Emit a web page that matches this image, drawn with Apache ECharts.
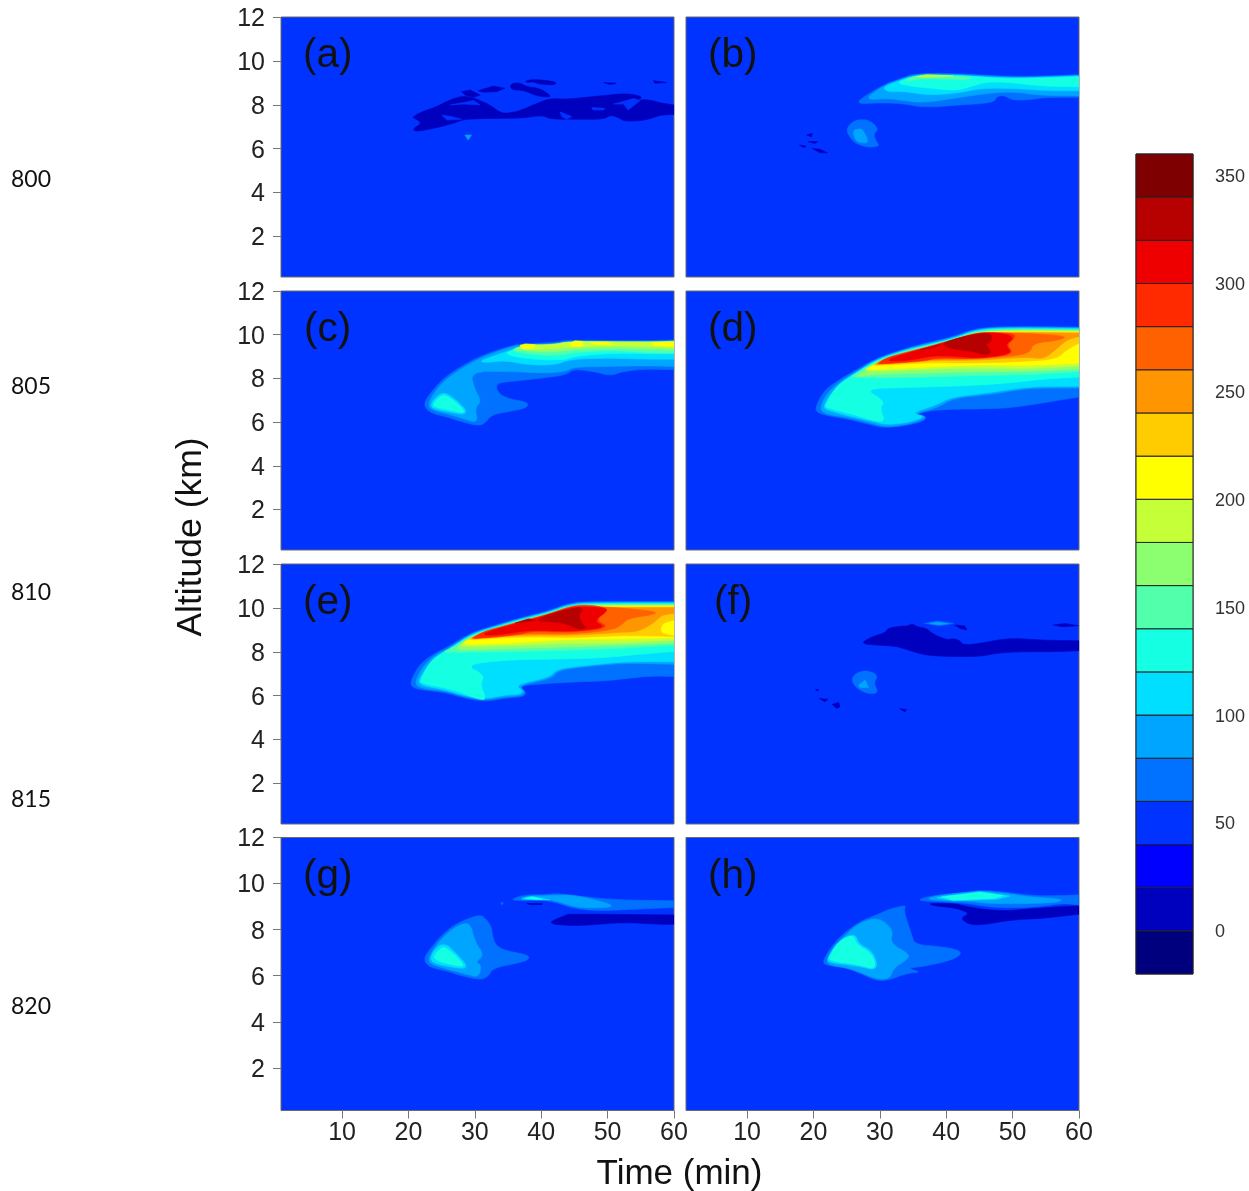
<!DOCTYPE html>
<html><head><meta charset="utf-8">
<style>html,body{margin:0;padding:0;background:#fff}#c{width:1249px;height:1191px}</style>
<script src="https://cdn.jsdelivr.net/npm/echarts@6/dist/echarts.min.js"></script>
</head><body><div id="c"></div>
<script>
const levels=[-20,0,20,40,60,80,100,120,140,160,180,200,220,240,260,280,300,320,340];
const levelColors=['#00007F','#0000BF','#0000FF','#0033FF','#0072FF','#00A5FF','#00DFFF','#15FFE3','#52FFAA','#8CFF70','#C4FF37','#FFFF00','#FFCC00','#FF9500','#FF6000','#FF2A00','#EE0000','#B70000','#7F0000'];
const colorbarTicks=[0,50,100,150,200,250,300,350];
const timeTicks=[10,20,30,40,50,60];
const altitudeTicks=[2,4,6,8,10,12];
const panelLetters=['(a)','(b)','(c)','(d)','(e)','(f)','(g)','(h)'];
const runLabels=['800','805','810','815','820'];

const panelA=[
[0,[[20.5,7.43],[22,7.68],[24,7.88],[26,8.19],[28,8.4],[29.5,8.34],[30.8,8.19],[32.3,7.99],[33.8,7.64],[35,7.61],[36.8,7.73],[39.3,8.06],[41.3,8.29],[43.8,8.25],[46.8,8.34],[49.9,8.44],[52.9,8.52],[55.4,8.37],[54.4,8.19],[55.9,8.25],[58.4,8.06],[60,7.99],[60,7.56],[57.9,7.53],[55.9,7.3],[52.6,7.23],[51.6,7.43],[50.4,7.53],[49.4,7.34],[45.8,7.34],[41.3,7.34],[40.3,7.53],[36.8,7.38],[32.3,7.38],[28.3,7.34],[26.8,7.15],[23.8,6.92],[21,6.77],[20.7,6.92],[22,7.15],[21.2,7.34]]],
[0,[[28,8.6],[29.3,8.67],[30.8,8.44],[29.8,8.34],[28.5,8.44]]],
[0,[[30.5,8.64],[32.8,8.85],[34.5,8.75],[33.3,8.6],[31.3,8.57]]],
[0,[[35.3,8.95],[36.8,9.01],[37.8,8.82],[39.8,8.75],[41.3,8.44],[41.3,8.34],[39.3,8.4],[37.3,8.67],[35.5,8.67]]],
[0,[[37.6,9.1],[39.1,9.16],[42.3,9.05],[42.1,8.9],[39.8,8.93],[38.8,9.05],[37.8,9.01]]],
[0,[[49.4,9.01],[51.3,8.98],[50.4,8.92]]],
[0,[[56.9,9.1],[58.9,9.01],[57.1,8.98]]],
[40,[[25,7.53],[26.5,7.46],[28,7.34],[25.8,7.3]]],
[40,[[42.8,7.68],[44.6,7.46],[43.8,7.34],[43.1,7.46]]],
[40,[[47.6,7.88],[49.6,7.84],[49.4,7.76],[47.8,7.76]]],
[40,[[50.9,8.03],[53.9,8.29],[54.9,8.19],[53.1,7.76],[52.4,8.03]]],
[40,[[26.3,7.99],[29.8,8.19],[30.8,7.99],[28.3,8.03]]],
[41,[[34.5,8.25],[36.05,8.29],[35.5,8.19]]],
[80,[[28.5,6.62],[29.5,6.62],[29,6.39]]]
];
const panelB=[
[0,[[19,6.62],[19.8,6.7],[19.7,6.54]]],
[0,[[19.2,6.32],[20.7,6.32],[20.2,6.24]]],
[0,[[17.9,6.16],[18.9,6.12],[18.6,6.04]]],
[0,[[19.8,6.01],[21,5.97],[22.1,5.81],[21,5.81]]],
[60,[[25.8,8.03],[30.5,8.9],[32.5,9.13],[35.5,9.43],[40.1,9.43],[45.1,9.36],[50.1,9.28],[55.1,9.31],[60,9.37],[60,8.34],[55.1,8.34],[53.1,8.25],[50.1,8.19],[48.6,8.44],[47.6,8.37],[47.1,8.09],[42.1,7.99],[36.6,7.87],[33.5,8.06],[30,8.09]]],
[60,[[24.9,6.85],[25.8,7.23],[27.3,7.35],[28.8,7.23],[29.8,6.88],[29,6.66],[29.5,6.31],[30,6.12],[28.3,6.05],[26.5,6.21],[25.6,6.47]]],
[80,[[27.5,8.22],[30.5,8.85],[32.5,9.1],[35.5,9.4],[40.1,9.4],[45.1,9.33],[50.1,9.25],[55.1,9.28],[60,9.34],[60,8.4],[54.1,8.43],[50.1,8.6],[46.1,8.52],[41.1,8.29],[36.6,8.09],[33.5,8.19],[31.5,8.29]]],
[80,[[25.9,6.82],[26.9,6.92],[27.5,6.85],[28.4,6.27],[27,6.27],[26.3,6.39]]],
[100,[[30.5,8.82],[32.5,9.05],[35.5,9.36],[40.1,9.36],[45.1,9.28],[50.1,9.2],[55.1,9.25],[60,9.31],[60,8.64],[55.1,8.64],[50.1,8.75],[45.1,8.75],[41.6,8.52],[37.1,8.44],[34,8.6],[31,8.6]]],
[120,[[32.3,9.01],[35.5,9.33],[40.1,9.33],[43.6,9.31],[47.6,9.2],[55.1,9.22],[60,9.28],[60,8.82],[54.1,8.85],[50.1,9.01],[46.1,9.05],[43.6,8.82],[41.6,8.64],[37.6,8.75],[34.5,8.85]]],
[140,[[33.8,9.13],[35.8,9.36],[43.6,9.28],[43.8,9.16],[40.1,9.16],[36.6,9.2],[34.3,9.08]]],
[180,[[35.5,9.28],[37.1,9.37],[41.1,9.31],[37.1,9.25]]]
];
const panelC=[
[60,[[22.2,6.8],[23.3,7.33],[25.3,8.02],[28.3,8.62],[31.3,9.08],[34.8,9.43],[36.8,9.58],[41.8,9.64],[44.3,9.76],[50.4,9.73],[56.4,9.73],[60,9.76],[60,8.4],[55.4,8.43],[52.4,8.32],[50.4,8.12],[47.9,8.32],[44.8,8.43],[43.8,8.17],[40.3,8.02],[35.3,7.86],[33.4,7.79],[33.2,7.48],[34.5,7.1],[38.1,6.91],[37.8,6.65],[35.3,6.5],[32.5,6.34],[31.5,5.93],[30.3,5.84],[27.8,6.04],[25.8,6.24],[23.3,6.42]]],
[80,[[23,6.85],[23.8,7.33],[25.5,7.94],[28.5,8.55],[31.3,9],[34.8,9.38],[36.8,9.54],[41.8,9.58],[44.3,9.72],[50.4,9.69],[56.4,9.69],[60,9.72],[60,8.55],[55.4,8.58],[50.4,8.55],[44.8,8.52],[43.8,8.32],[40.3,8.24],[35.3,8.32],[29.3,8.32],[30,7.48],[31,6.95],[30,6.65],[30.5,5.96],[28.3,6.15],[26.3,6.34],[23.3,6.57]]],
[100,[[30.5,8.78],[34.8,9.23],[36.8,9.46],[41.8,9.54],[44.3,9.69],[50.4,9.64],[56.4,9.64],[60,9.69],[60,8.88],[55.4,8.88],[50.4,8.93],[44.3,8.88],[42.3,8.62],[37.8,8.62],[34.8,8.82],[31.8,8.73]]],
[100,[[23.3,6.8],[24.3,7.21],[25.5,7.36],[27,7.06],[28.7,6.57],[28.5,6.34],[26.3,6.45],[23.8,6.6]]],
[120,[[23.7,6.8],[24.5,7.1],[25.4,7.26],[26.8,7],[28.3,6.57],[28.3,6.42],[26.3,6.54],[24,6.69]]],
[120,[[34.6,9.19],[36.8,9.38],[41.8,9.46],[44.3,9.64],[50.4,9.61],[56.4,9.61],[60,9.64],[60,9.13],[55.4,9.13],[50.4,9.16],[44.8,9],[43.8,8.85],[39.3,8.85],[35.3,9.03]]],
[140,[[35.3,9.28],[36.8,9.43],[41.8,9.49],[44.3,9.67],[50.4,9.64],[56.4,9.64],[60,9.67],[60,9.16],[55.4,9.19],[51.4,9.28],[46.3,9.23],[41.8,9.03],[37.8,9.13]]],
[160,[[35.8,9.34],[36.8,9.46],[41.8,9.52],[44.3,9.67],[50.4,9.64],[56.4,9.64],[60,9.67],[60,9.31],[55.4,9.34],[50.4,9.38],[45.3,9.34],[41.3,9.19],[37.3,9.28]]],
[180,[[36.6,9.43],[37.3,9.55],[41.8,9.54],[44.3,9.7],[56.4,9.67],[60,9.7],[60,9.4],[55.4,9.46],[50.4,9.49],[44.3,9.43],[40.3,9.34],[37.3,9.31]]],
[200,[[36.8,9.51],[37.6,9.58],[39.1,9.54],[38.8,9.38],[37.3,9.38]]],
[200,[[44.2,9.58],[45.1,9.72],[46.3,9.69],[46.3,9.49],[44.8,9.46]]],
[200,[[47.3,9.64],[49.9,9.66],[50.9,9.55],[48.4,9.54]]],
[200,[[56.6,9.64],[60,9.67],[60,9.46],[56.9,9.51]]]
];
const panelD=[
[60,[[20.2,6.61],[21.5,7.41],[23.5,7.87],[26,8.32],[29.5,8.93],[33.55,9.34],[37.05,9.62],[41.1,9.92],[44.6,10.3],[49.6,10.38],[60,10.35],[60,7.15],[54.6,6.88],[49.6,6.65],[45.6,6.61],[38.6,6.58],[35.05,6.35],[37.05,6.24],[36.6,6.04],[33.55,5.82],[30.5,5.74],[28.5,5.89],[25.5,6.12],[22,6.3],[20.75,6.42]]],
[80,[[20.9,6.58],[21.9,7.26],[23.8,7.82],[26.3,8.28],[29.5,8.89],[33.55,9.31],[37.05,9.59],[41.1,9.87],[44.6,10.27],[49.6,10.35],[60,10.32],[60,7.56],[54.6,7.56],[51.6,7.52],[46.6,7.26],[41.1,7.11],[38.6,6.65],[35.05,6.38],[37.05,6.27],[36.3,6.09],[33.55,5.85],[30.5,5.79],[28.5,5.97],[25.5,6.2],[22,6.35]]],
[100,[[21.5,6.7],[22.25,7.15],[24,7.79],[26.3,8.25],[29.5,8.86],[33.55,9.28],[37.05,9.54],[41.1,9.84],[44.6,10.24],[49.6,10.32],[60,10.28],[60,7.64],[54.6,7.64],[51.1,7.56],[46.35,7.34],[40.8,7.15],[38.3,6.76],[34.8,6.42],[36.6,6.27],[36.05,6.15],[33.55,5.94],[30.8,5.89],[28.8,6.04],[25.5,6.27],[22,6.55]]],
[120,[[21.75,6.76],[23.3,7.56],[24.3,7.82],[26.3,8.22],[29.5,8.83],[33.55,9.25],[37.05,9.51],[41.1,9.81],[44.6,10.21],[49.6,10.28],[60,10.25],[60,8.07],[54.6,7.97],[49.6,7.79],[43.6,7.67],[34.55,7.59],[27.5,7.53],[30.8,6.96],[30,6.65],[30.8,6.04],[29.3,6.04],[26,6.35],[22,6.65]]],
[140,[[25.5,8.07],[26.3,8.19],[29.5,8.8],[33.55,9.22],[37.05,9.48],[41.1,9.78],[44.6,10.18],[49.6,10.25],[60,10.22],[60,8.32],[52.1,8.17],[44.6,8.13],[37.05,8.07],[28.5,8.02]]],
[160,[[27,8.2],[29.5,8.73],[33.55,9.16],[37.05,9.43],[41.1,9.74],[44.6,10.13],[49.6,10.22],[60,10.19],[60,8.43],[52.1,8.32],[44.6,8.32],[37.05,8.25],[28.5,8.17],[26.3,8.07]]],
[180,[[27.8,8.4],[29.8,8.7],[33.55,9.13],[37.05,9.4],[41.1,9.71],[44.6,10.1],[49.6,10.19],[60,10.16],[60,8.58],[52.1,8.43],[44.6,8.48],[37.05,8.43],[28.5,8.32]]],
[200,[[28.5,8.52],[30,8.73],[33.55,9.1],[37.05,9.37],[41.1,9.68],[44.6,10.07],[49.6,10.16],[60,10.13],[60,8.7],[52.1,8.58],[44.6,8.63],[37.05,8.51],[28.5,8.4],[27.8,8.43]]],
[220,[[29,8.63],[30.3,8.78],[33.55,9.07],[37.05,9.34],[41.1,9.65],[44.6,10.04],[49.6,10.13],[60,10.1],[60,9.62],[58.15,9.31],[56.6,8.89],[52.1,8.78],[44.6,8.7],[37.05,8.73],[29.3,8.58]]],
[240,[[29.3,8.66],[30.5,8.83],[33.55,9.04],[37.05,9.31],[41.1,9.62],[44.6,10.01],[49.6,10.1],[60,10.07],[60,9.92],[58.15,9.77],[56.2,9.24],[54.6,8.89],[52.1,8.98],[44.6,8.83],[37.05,8.83],[29.8,8.63]]],
[260,[[29.5,8.69],[31,8.93],[34.05,9.16],[37.05,9.39],[41.1,9.69],[44.6,10.04],[49.6,10.1],[58.4,9.95],[56.9,9.74],[53.1,9.62],[52.6,9.16],[49.6,9.01],[44.6,8.89],[37.05,8.89],[29.8,8.66]]],
[280,[[29.8,8.7],[31.3,8.98],[34.55,9.24],[37.05,9.43],[41.1,9.77],[44.6,10.1],[47.6,10.1],[50.4,10.04],[50.2,9.8],[49.1,9.54],[50.1,9.16],[48.1,9.01],[43.6,8.89],[38.6,8.96],[36.6,8.78],[30,8.66]]],
[300,[[31.3,8.89],[34.55,9.19],[38.6,9.54],[41.1,9.77],[45.1,10.1],[49.1,10.04],[50.2,9.84],[48.85,9.54],[49.9,9.19],[48.1,9.04],[44.6,8.93],[41.6,9.01],[38.05,9.04],[34.55,8.83],[31.5,8.78]]],
[320,[[39.1,9.54],[41.1,9.8],[45.1,10.07],[46.85,10.04],[46.85,9.69],[45.85,9.54],[46.85,9.24],[46.1,9.04],[44.1,9.24],[41.6,9.31]]],
[320,[[36.05,9.31],[38.05,9.46],[39.1,9.54],[37.8,9.39]]]
];
const panelE=[
[60,[[20.2,6.56],[21.5,7.37],[23.5,7.85],[26,8.23],[29.5,8.89],[33.55,9.25],[37.05,9.56],[41.1,9.86],[44.6,10.26],[49.6,10.29],[60,10.29],[60,6.87],[56.6,6.9],[53.1,6.79],[49.6,6.67],[43.6,6.61],[38.05,6.49],[36.6,6.41],[37.8,6.15],[37.3,5.95],[34.55,5.88],[31.5,5.73],[28.5,5.88],[25.5,6.15],[22,6.26],[20.75,6.36]]],
[80,[[20.9,6.52],[21.9,7.22],[23.8,7.82],[26.3,8.2],[29.5,8.84],[33.55,9.22],[37.05,9.53],[41.1,9.83],[44.6,10.23],[49.6,10.26],[60,10.26],[60,7.43],[54.6,7.47],[51.6,7.47],[46.6,7.32],[42.6,7.17],[41.6,6.79],[36.6,6.46],[37.6,6.18],[37.05,6],[34.55,5.95],[31.5,5.79],[28.5,5.94],[25.5,6.21],[22,6.33]]],
[100,[[21.5,6.64],[22.25,7.09],[24,7.78],[26.3,8.17],[29.5,8.81],[33.55,9.19],[37.05,9.5],[41.1,9.8],[44.6,10.19],[49.6,10.23],[60,10.23],[60,7.55],[54.6,7.55],[51.6,7.52],[46.6,7.37],[42.35,7.22],[41.3,6.84],[36.05,6.49],[37.3,6.21],[36.8,6.06],[34.55,6.03],[31.5,5.85],[28.5,5.99],[25.5,6.26],[22,6.46]]],
[120,[[21.75,6.71],[23.3,7.55],[24.3,7.78],[26.3,8.14],[29.5,8.78],[33.55,9.16],[37.05,9.47],[41.1,9.77],[44.6,10.16],[49.6,10.19],[60,10.19],[60,8.01],[54.6,7.88],[49.6,7.73],[43.6,7.67],[34.55,7.63],[28.5,7.4],[31.5,6.94],[30.8,6.49],[31.8,5.8],[30.3,5.85],[27,6.26],[22,6.56]]],
[140,[[25,7.98],[26.3,8.11],[29.5,8.75],[33.55,9.13],[37.05,9.43],[41.1,9.74],[44.6,10.13],[49.6,10.16],[60,10.16],[60,8.31],[52.1,8.16],[44.6,8.08],[37.05,8.01],[28.5,7.98]]],
[160,[[26.8,8.11],[29.5,8.69],[33.55,9.1],[37.05,9.4],[41.1,9.71],[44.6,10.1],[49.6,10.13],[60,10.13],[60,8.39],[52.1,8.31],[44.6,8.23],[37.05,8.16],[28.5,8.08]]],
[180,[[27.5,8.31],[29.8,8.64],[33.55,9.07],[37.05,9.37],[41.1,9.68],[44.6,10.07],[49.6,10.1],[60,10.1],[60,8.54],[52.1,8.39],[44.6,8.39],[37.05,8.31],[28.5,8.23]]],
[200,[[28.3,8.46],[30,8.67],[33.55,9.04],[37.05,9.34],[41.1,9.65],[44.6,10.04],[49.6,10.07],[60,10.07],[60,8.64],[52.1,8.58],[44.6,8.58],[37.05,8.42],[28.5,8.31]]],
[220,[[29,8.58],[30.3,8.74],[33.55,9.01],[37.05,9.31],[41.1,9.62],[44.6,10.01],[49.6,10.04],[60,10.04],[60,9.45],[58.15,9.3],[57.9,8.84],[60,8.72],[60,8.69],[57.6,8.72],[52.1,8.74],[44.6,8.64],[37.05,8.69],[29.3,8.54]]],
[240,[[29.3,8.61],[30.5,8.77],[33.55,8.98],[37.05,9.28],[41.1,9.59],[44.6,9.98],[49.6,10.01],[60,10.01],[60,9.75],[58.15,9.68],[56.9,9.3],[54.6,8.92],[52.1,8.89],[44.6,8.74],[37.05,8.77],[29.8,8.58]]],
[260,[[29.5,8.63],[31,8.87],[34.05,9.07],[37.05,9.34],[41.1,9.65],[44.6,10.04],[49.6,10.06],[57.9,9.83],[56.1,9.65],[53.1,9.53],[52.1,9.22],[50.6,8.99],[44.6,8.8],[37.05,8.84],[29.8,8.6]]],
[280,[[29.8,8.64],[31.3,8.92],[34.55,9.19],[37.05,9.4],[41.1,9.71],[44.6,10.1],[47.6,10.13],[50.4,9.95],[48.1,9.45],[50.1,9.15],[48.1,8.99],[43.6,8.89],[38.6,8.95],[36.6,8.77],[30,8.6]]],
[300,[[31.3,8.84],[34.55,9.15],[38.6,9.45],[41.1,9.71],[45.1,10.06],[49.1,10.01],[50.2,9.91],[47.85,9.4],[49.6,9.15],[47.6,9.02],[43.6,8.92],[38.6,9],[34.55,8.8],[31.5,8.74]]],
[320,[[39.1,9.4],[41.1,9.68],[45.6,10.06],[46.35,9.91],[45.6,9.68],[46.1,9.3],[46.85,9.07],[45.6,9.02],[43.6,9.3],[41.6,9.37]]],
[320,[[36.05,9.3],[38.05,9.5],[39.2,9.43],[37.6,9.37]]]
];
const panelF=[
[0,[[27,8.38],[29,8.71],[30.9,8.87],[31.1,9.06],[33,9.17],[34.3,9.17],[34.8,9.29],[35.6,9.14],[37.1,9.06],[37.8,8.84],[40.1,8.53],[41.1,8.61],[42.1,8.5],[42.6,8.3],[45.1,8.38],[48.1,8.56],[50.6,8.61],[54.1,8.53],[60,8.5],[60,8.05],[56.1,8],[50.6,8],[47.1,7.92],[45.1,7.77],[37.6,7.8],[35,8],[32.5,8.26],[29.5,8.3]]],
[0,[[56.1,9.22],[57.9,9.29],[59.9,9.19],[57.6,9.14]]],
[0,[[41.3,9.22],[42.8,9.17],[43.1,8.99],[42.1,9.06]]],
[0,[[20.3,6.28],[20.8,6.28],[20.6,6.21]]],
[0,[[20.9,5.87],[22.2,5.83],[21.7,5.72]]],
[0,[[22.8,5.6],[23.8,5.7],[24,5.49],[23.5,5.42]]],
[0,[[33,5.4],[34,5.37],[33.8,5.26]]],
[60,[[36.7,9.29],[38.6,9.4],[41.1,9.29],[39.1,9.19]]],
[60,[[25.7,6.71],[26.3,7.01],[27.8,7.16],[29.3,7.01],[29.6,6.86],[29.1,6.56],[29.8,6.13],[28.3,6.07],[26.5,6.33]]],
[80,[[37.5,9.29],[38.8,9.35],[40.3,9.28],[38.8,9.23]]],
[80,[[26.8,6.48],[27.8,6.71],[28.3,6.37],[27,6.36]]]
];
const panelG=[
[0,[[40.8,8.28],[43.8,8.64],[44.3,8.68],[60,8.64],[60,8.23],[57.9,8.23],[52.4,8.32],[46.3,8.18],[43.8,8.18]]],
[0,[[37.8,9.13],[40.1,9.14],[40.1,9.09],[38.3,9.09]]],
[60,[[22.2,6.69],[23.3,7.19],[25.3,7.84],[27.3,8.28],[30.8,8.68],[31.8,8.42],[32.5,8.13],[32.8,7.48],[34,7.12],[38.1,6.9],[38.1,6.69],[36.3,6.54],[32.7,6.33],[32,5.96],[30.8,5.82],[27.8,6.01],[25.8,6.21],[23.3,6.35]]],
[60,[[35.3,9.29],[37.3,9.51],[40.8,9.51],[42.3,9.58],[46.3,9.43],[51.4,9.29],[60,9.25],[60,8.96],[54.9,8.9],[48.4,8.81],[44.8,8.93],[41.8,9.22],[39.8,9.29],[37.3,9.25]]],
[60,[[33.9,9.17],[34.3,9.17],[34.1,9.07]]],
[80,[[23,6.73],[23.8,7.19],[25.5,7.77],[27.5,8.2],[29.3,8.31],[30,7.48],[31.4,6.9],[30.1,6.59],[31,6.47],[30.6,5.92],[28.8,6.06],[26.3,6.25],[23.3,6.5]]],
[80,[[36.6,9.33],[37.8,9.46],[41.8,9.48],[44.3,9.51],[47.3,9.36],[51.6,9],[47.3,8.93],[44.8,9],[41.8,9.29],[39.6,9.33]]],
[100,[[23.2,6.79],[24.4,7.31],[25.7,7.37],[27,7.02],[28.8,6.47],[28.4,6.3],[26,6.4],[23.8,6.54]]],
[100,[[37.1,9.33],[38.3,9.43],[40.1,9.36],[41.3,9.29],[39.3,9.29]]],
[120,[[23.8,6.86],[24.8,7.19],[25.5,7.24],[26.8,6.95],[28.3,6.5],[28.1,6.4],[26,6.51],[24.2,6.66]]],
[120,[[37.6,9.36],[38.8,9.43],[40.1,9.33],[39.1,9.32]]]
];
const panelH=[
[0,[[37.3,9.14],[41.1,9.14],[43.1,9],[46.1,8.86],[49.1,8.81],[53.6,8.93],[60,9.04],[60,8.67],[54.6,8.49],[49.6,8.42],[46.1,8.23],[43.6,8.2],[42.1,8.49],[43.6,8.71],[41.6,8.93],[38.1,9.04]]],
[60,[[21.25,6.54],[22.5,7.19],[24.5,7.84],[27,8.35],[29.5,8.64],[31.5,8.9],[34.05,9.07],[33.55,8.86],[34.8,7.77],[35.3,7.34],[39.6,7.26],[42.6,7.05],[41.1,6.69],[36.6,6.4],[34.05,6.33],[36.3,6.15],[34.05,6.11],[31.5,5.82],[29.5,5.78],[27,6.11],[25,6.33],[22.5,6.43]]],
[60,[[35.45,9.29],[38.6,9.51],[42.1,9.58],[45.1,9.72],[49.1,9.62],[53.6,9.46],[57.6,9.48],[60,9.51],[60,9.07],[57.6,9.14],[54.1,9],[49.6,8.93],[46.1,9],[43.1,9.14],[40.6,9.19],[37.6,9.22]]],
[80,[[22,6.69],[23,7.19],[24.8,7.77],[27,8.31],[29.8,8.54],[32.05,7.99],[31.5,7.41],[34.55,6.93],[34.05,6.69],[32.05,6.33],[31.5,5.86],[29.5,5.85],[27,6.15],[25,6.35],[22.25,6.47]]],
[80,[[36.8,9.33],[39.3,9.51],[45.1,9.68],[49.1,9.58],[52.1,9.43],[57.6,9.33],[56.9,9.19],[53.6,9.14],[49.6,9.14],[46.1,9.14],[43.1,9.25],[39.6,9.25]]],
[100,[[22.1,6.79],[23.8,7.55],[26.3,7.84],[26.8,7.37],[29,7.06],[29.8,6.21],[26.5,6.43],[22.25,6.57]]],
[100,[[38.6,9.39],[45.1,9.65],[49.6,9.46],[47.6,9.32],[41.1,9.25]]],
[120,[[22.4,6.83],[23.8,7.48],[26,7.8],[26.5,7.34],[28.8,6.98],[29.5,6.25],[26.5,6.5],[22.5,6.64]]],
[120,[[39.3,9.43],[45.1,9.62],[48.6,9.48],[47.1,9.36],[41.1,9.29]]]
];
const panels=[panelA,panelB,panelC,panelD,panelE,panelF,panelG,panelH];

function colorOf(level){
  let i=levels.length-1;
  while(i>0&&levels[i]>level)i--;
  return levelColors[i];
}
// Corner cutting of an outline; vertices on the panel's right edge stay sharp.
function roundOutline(pts,rounds){
  let cur=pts.map(p=>({p:p,fixed:p[0]>=60}));
  for(let r=0;r<rounds;r++){
    const next=[],n=cur.length;
    cur.forEach((v,i)=>{
      if(v.fixed){next.push(v);return;}
      const a=cur[(i+n-1)%n].p,b=cur[(i+1)%n].p,q=v.p;
      next.push({p:[q[0]+(a[0]-q[0])*0.25,q[1]+(a[1]-q[1])*0.25],fixed:false});
      next.push({p:[q[0]+(b[0]-q[0])*0.25,q[1]+(b[1]-q[1])*0.25],fixed:false});
    });
    cur=next;
  }
  return cur.map(v=>v.p);
}
const colLeft=[281,686], colWidth=393;
const rowTop=[17,291,564,837.5], rowHeight=[260,259,260,273];
const grids=[],xAxes=[],yAxes=[],series=[];
panels.forEach((polys,idx)=>{
  const col=idx%2,row=Math.floor(idx/2);
  grids.push({left:colLeft[col],top:rowTop[row],width:colWidth,height:rowHeight[row],show:true,backgroundColor:'#0033FF',borderColor:'#6a6a6a',borderWidth:1,containLabel:false});
  const bottom=row===3,left=col===0;
  xAxes.push({type:'value',gridIndex:idx,min:0.8,max:60,splitLine:{show:false},axisLine:{show:false},
    axisTick:{show:bottom,customValues:timeTicks,length:8,lineStyle:{color:'#777',width:1}},
    axisLabel:{show:bottom,customValues:timeTicks,fontFamily:'Liberation Sans',fontSize:25,color:'#222',margin:10}});
  yAxes.push({type:'value',gridIndex:idx,min:0.15,max:12,splitLine:{show:false},axisLine:{show:false},
    axisTick:{show:left,customValues:altitudeTicks,length:8,lineStyle:{color:'#777',width:1}},
    axisLabel:{show:left,customValues:altitudeTicks,fontFamily:'Liberation Sans',fontSize:25,color:'#222',margin:16,verticalAlign:'top',lineHeight:4}});
  const ordered=polys.slice().sort((a,b)=>a[0]-b[0]);
  series.push({type:'custom',xAxisIndex:idx,yAxisIndex:idx,clip:true,silent:true,animation:false,
    encode:{x:0,y:1},
    data:ordered.map((p,i)=>[p[1][0][0],p[1][0][1],i]),
    renderItem:function(params,api){
      const p=ordered[api.value(2)];
      const c=colorOf(p[0]);
      const outline=p[1].length>=6?roundOutline(p[1],2):p[1];
      return {type:'polygon',shape:{points:outline.map(q=>api.coord(q))},style:{fill:c,stroke:c,lineWidth:0.6}};
    }});
});
// colour bar
const cb=panels.length;
grids.push({left:1136,top:154,width:57,height:820,show:true,backgroundColor:'#fff',borderColor:'#444',borderWidth:1});
xAxes.push({type:'value',gridIndex:cb,min:0,max:1,show:false});
yAxes.push({type:'value',gridIndex:cb,min:-20,max:360,position:'right',splitLine:{show:false},axisLine:{show:false},
  axisTick:{show:true,customValues:colorbarTicks,length:11,lineStyle:{color:'#777',width:1}},
  axisLabel:{customValues:colorbarTicks,fontFamily:'Liberation Sans',fontSize:18,color:'#333',margin:22,verticalAlign:'top',lineHeight:3}});
series.push({type:'custom',xAxisIndex:cb,yAxisIndex:cb,silent:true,animation:false,clip:false,encode:{x:0,y:1},
  data:levels.map((l,i)=>[0,l,i]),
  renderItem:function(params,api){
    const i=api.value(2);
    const a=api.coord([0,levels[i]]),b=api.coord([1,levels[i]+20]);
    return {type:'rect',shape:{x:a[0],y:b[1],width:b[0]-a[0],height:a[1]-b[1]},style:{fill:levelColors[i],stroke:'#222',lineWidth:1}};
  }});

const letterPos=[[303,56],[708,56],[304,330],[708,330],[303,603],[714,603],[303,877],[708,877]];
const runY=[180,387,593,800,1007];
const graphic=[];
panelLetters.forEach((t,i)=>graphic.push({type:'text',x:letterPos[i][0],y:letterPos[i][1],z:50,
  style:{text:t,font:'40.5px "Liberation Sans"',fill:'#111',textAlign:'left',textVerticalAlign:'middle'}}));
runLabels.forEach((t,i)=>graphic.push({type:'text',x:11,y:runY[i],z:50,
  style:{text:t,font:'23px Lato',fill:'#111',textAlign:'left',textVerticalAlign:'middle'}}));
graphic.push({type:'text',x:191,y:537,rotation:Math.PI/2,z:50,style:{text:'Altitude (km)',font:'35.5px "Liberation Sans"',fill:'#111',textAlign:'center',textVerticalAlign:'middle'}});
graphic.push({type:'text',x:679.5,y:1174,z:50,style:{text:'Time (min)',font:'35px "Liberation Sans"',fill:'#111',textAlign:'center',textVerticalAlign:'middle'}});

const chart=echarts.init(document.getElementById('c'),null,{renderer:'canvas'});
chart.setOption({animation:false,backgroundColor:'#fff',grid:grids,xAxis:xAxes,yAxis:yAxes,series:series,graphic:graphic});
</script></body></html>
